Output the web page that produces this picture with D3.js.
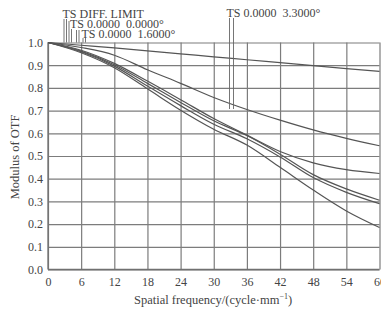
<!DOCTYPE html>
<html><head><meta charset="utf-8">
<script src="https://cdn.jsdelivr.net/npm/d3@7"></script>
<style>
html,body{margin:0;padding:0;background:#fff;}
svg{display:block;}
text{font-family:"Liberation Serif","Times New Roman",serif;fill:#444;}
</style></head>
<body><svg id="c" width="381" height="311"></svg>
<script>
const freqs = [0, 6, 12, 18, 24, 30, 36, 42, 48, 54, 60];
const diffLimit = [1, 0.988, 0.976, 0.963, 0.950, 0.937, 0.924, 0.911, 0.898, 0.885, 0.873];
const field16a = [1, 0.978, 0.944, 0.880, 0.820, 0.758, 0.705, 0.658, 0.615, 0.578, 0.545];
const field16b = [1, 0.966, 0.908, 0.830, 0.748, 0.665, 0.592, 0.520, 0.470, 0.440, 0.423];
const field00 = [1, 0.962, 0.902, 0.820, 0.736, 0.655, 0.590, 0.508, 0.418, 0.355, 0.305];
const field33a = [1, 0.959, 0.896, 0.808, 0.722, 0.640, 0.576, 0.496, 0.405, 0.340, 0.290];
const field33b = [1, 0.955, 0.889, 0.796, 0.702, 0.618, 0.548, 0.450, 0.350, 0.258, 0.185];
const xTicks = [0, 6, 12, 18, 24, 30, 36, 42, 48, 54, 60];
const yTicks = [0, 0.1, 0.2, 0.3, 0.4, 0.5, 0.6, 0.7, 0.8, 0.9, 1.0];
const legendLabels = ["TS DIFF. LIMIT", "TS 0.0000\u00a0\u00a00.0000\u00b0", "TS 0.0000\u00a0\u00a01.6000\u00b0", "TS 0.0000\u00a0\u00a03.3000\u00b0"];

const svg = d3.select("#c");
const L = 48, R = 379.5, T = 42.5, B = 269.5;
const x = d3.scaleLinear().domain([0, 60]).range([L, R]);
const y = d3.scaleLinear().domain([0, 1]).range([B, T]);

// grid
const gx = svg.append("g").attr("transform", `translate(0,${B})`)
  .call(d3.axisBottom(x).tickValues(xTicks).tickSize(-(B - T)).tickPadding(6).tickFormat(d3.format("d")));
const gy = svg.append("g").attr("transform", `translate(${L},0)`)
  .call(d3.axisLeft(y).tickValues(yTicks).tickSize(-(R - L)).tickPadding(4).tickFormat(d3.format(".1f")));
[gx, gy].forEach(g => {
  g.select(".domain").remove();
  g.selectAll(".tick line").attr("stroke", "#7c7c7c").attr("stroke-width", 1.2);
  g.selectAll(".tick text").attr("font-size", 12).attr("fill", "#444")
    .attr("font-family", "Liberation Serif, serif");
});
gx.selectAll(".tick text").attr("dy", "0.9em");
gy.selectAll(".tick text").attr("dx", "-1");
// frame lines
svg.append("line").attr("x1", L).attr("x2", L).attr("y1", T).attr("y2", B).attr("stroke", "#707070").attr("stroke-width", 1.3);
svg.append("line").attr("x1", L).attr("x2", R).attr("y1", B).attr("y2", B).attr("stroke", "#707070").attr("stroke-width", 1.3);

// curves
const series = [diffLimit, field16a, field16b, field00, field33a, field33b];
const line = d3.line().x((d, i) => x(freqs[i])).y(d => y(d)).curve(d3.curveMonotoneX);
svg.append("g").selectAll("path").data(series).join("path")
  .attr("d", line).attr("fill", "none").attr("stroke", "#555").attr("stroke-width", 1.2);

// legend labels and leader lines
const lab = svg.append("g").attr("font-size", 12);
lab.append("text").attr("x", 62.5).attr("y", 18).text(legendLabels[0]);
lab.append("text").attr("x", 70).attr("y", 28).text(legendLabels[1]);
lab.append("text").attr("x", 81.5).attr("y", 37.5).text(legendLabels[2]);
lab.append("text").attr("x", 226.5).attr("y", 16.5).text(legendLabels[3]);
const leaders = [
  [64, 19, T], [66.5, 19, T],
  [69, 21, T], [71.5, 29, T],
  [76.5, 30, T], [79, 30, T],
  [83, 38, T], [85.5, 38, T],
  [229.5, 18, 109], [233.5, 18, 109]
];
svg.append("g").selectAll("line").data(leaders).join("line")
  .attr("x1", d => d[0]).attr("x2", d => d[0]).attr("y1", d => d[1]).attr("y2", d => d[2])
  .attr("stroke", "#666").attr("stroke-width", 0.9);

// axis titles
const xt = svg.append("text").attr("x", 213).attr("y", 304).attr("text-anchor", "middle").attr("font-size", 12.5);
xt.append("tspan").text("Spatial frequency/(cycle\u00b7mm");
xt.append("tspan").attr("dy", -5).attr("font-size", 8).text("\u22121");
xt.append("tspan").attr("dy", 5).text(")");
svg.append("text").attr("transform", "translate(19,157) rotate(-90)").attr("text-anchor", "middle")
  .attr("font-size", 12.5).text("Modulus of OTF");
</script></body></html>
